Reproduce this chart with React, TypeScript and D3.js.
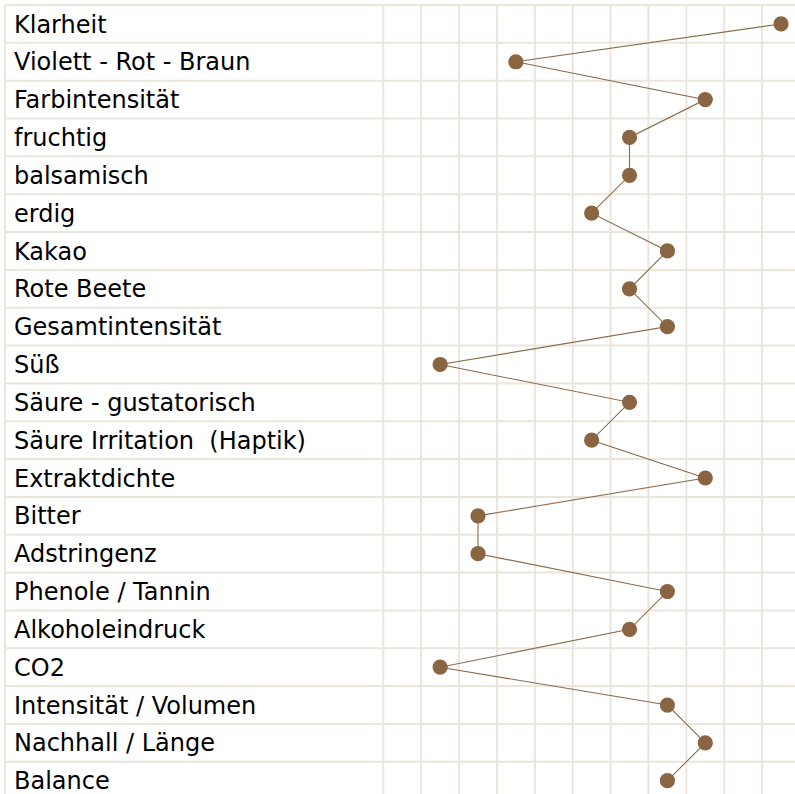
import React from "react";
import * as d3 from "d3";

const categories: string[] = [
  "Klarheit",
  "Violett - Rot - Braun",
  "Farbintensität",
  "fruchtig",
  "balsamisch",
  "erdig",
  "Kakao",
  "Rote Beete",
  "Gesamtintensität",
  "Süß",
  "Säure - gustatorisch",
  "Säure Irritation  (Haptik)",
  "Extraktdichte",
  "Bitter",
  "Adstringenz",
  "Phenole / Tannin",
  "Alkoholeindruck",
  "CO2",
  "Intensität / Volumen",
  "Nachhall / Länge",
  "Balance",
];

const values: number[] = [10, 3, 8, 6, 6, 5, 7, 6, 7, 1, 6, 5, 8, 2, 2, 7, 6, 1, 7, 8, 7];

const scaleSteps: number[] = d3.range(0, 11);

const W = 795;
const H = 794;
const originX = 5;
const originY = 5;
const labelW = 378.3;
const cell = 37.88;
const rowH = 37.84;

export default function App() {
  const plotLeft = originX + labelW;
  const x = d3
    .scaleBand<number>()
    .domain(scaleSteps)
    .range([plotLeft, plotLeft + cell * scaleSteps.length])
    .padding(0);
  const y = d3
    .scaleBand<string>()
    .domain(categories)
    .range([originY, originY + rowH * categories.length])
    .padding(0);

  const pts = values.map((v, i) => [
    (x(v) as number) + x.bandwidth() / 2,
    (y(categories[i]) as number) + y.bandwidth() / 2,
  ] as [number, number]);
  const line = d3.line<[number, number]>()(pts) || "";

  const gridColor = "#ebe6dc";
  const vLines = [originX, ...scaleSteps.map((s) => x(s) as number), plotLeft + cell * scaleSteps.length];
  const hLines = [...categories.map((c) => y(c) as number), originY + rowH * categories.length];

  return (
    <svg
      width={W}
      height={H}
      style={{ position: "absolute", left: 0, top: 0, background: "#fff" }}
      fontFamily="DejaVu Sans"
    >
      <rect x={0} y={0} width={W} height={H} fill="#fff" />
      {hLines.map((yy, i) => (
        <line key={"h" + i} x1={originX} x2={W} y1={yy} y2={yy} stroke={gridColor} strokeWidth={2} />
      ))}
      {vLines.map((xx, i) => (
        <line key={"v" + i} x1={xx} x2={xx} y1={originY} y2={H} stroke={gridColor} strokeWidth={2} />
      ))}
      {categories.map((c) => (
        <text key={c} x={14} y={(y(c) as number) + 27.5} fontSize={24} fill="#000" xmlSpace="preserve" style={{ whiteSpace: "pre" }}>
          {c}
        </text>
      ))}
      <path d={line} fill="none" stroke="#8b6a4a" strokeWidth={1.1} />
      {pts.map((p, i) => (
        <circle key={i} cx={p[0]} cy={p[1]} r={7.6} fill="#8b6541" />
      ))}
    </svg>
  );
}
